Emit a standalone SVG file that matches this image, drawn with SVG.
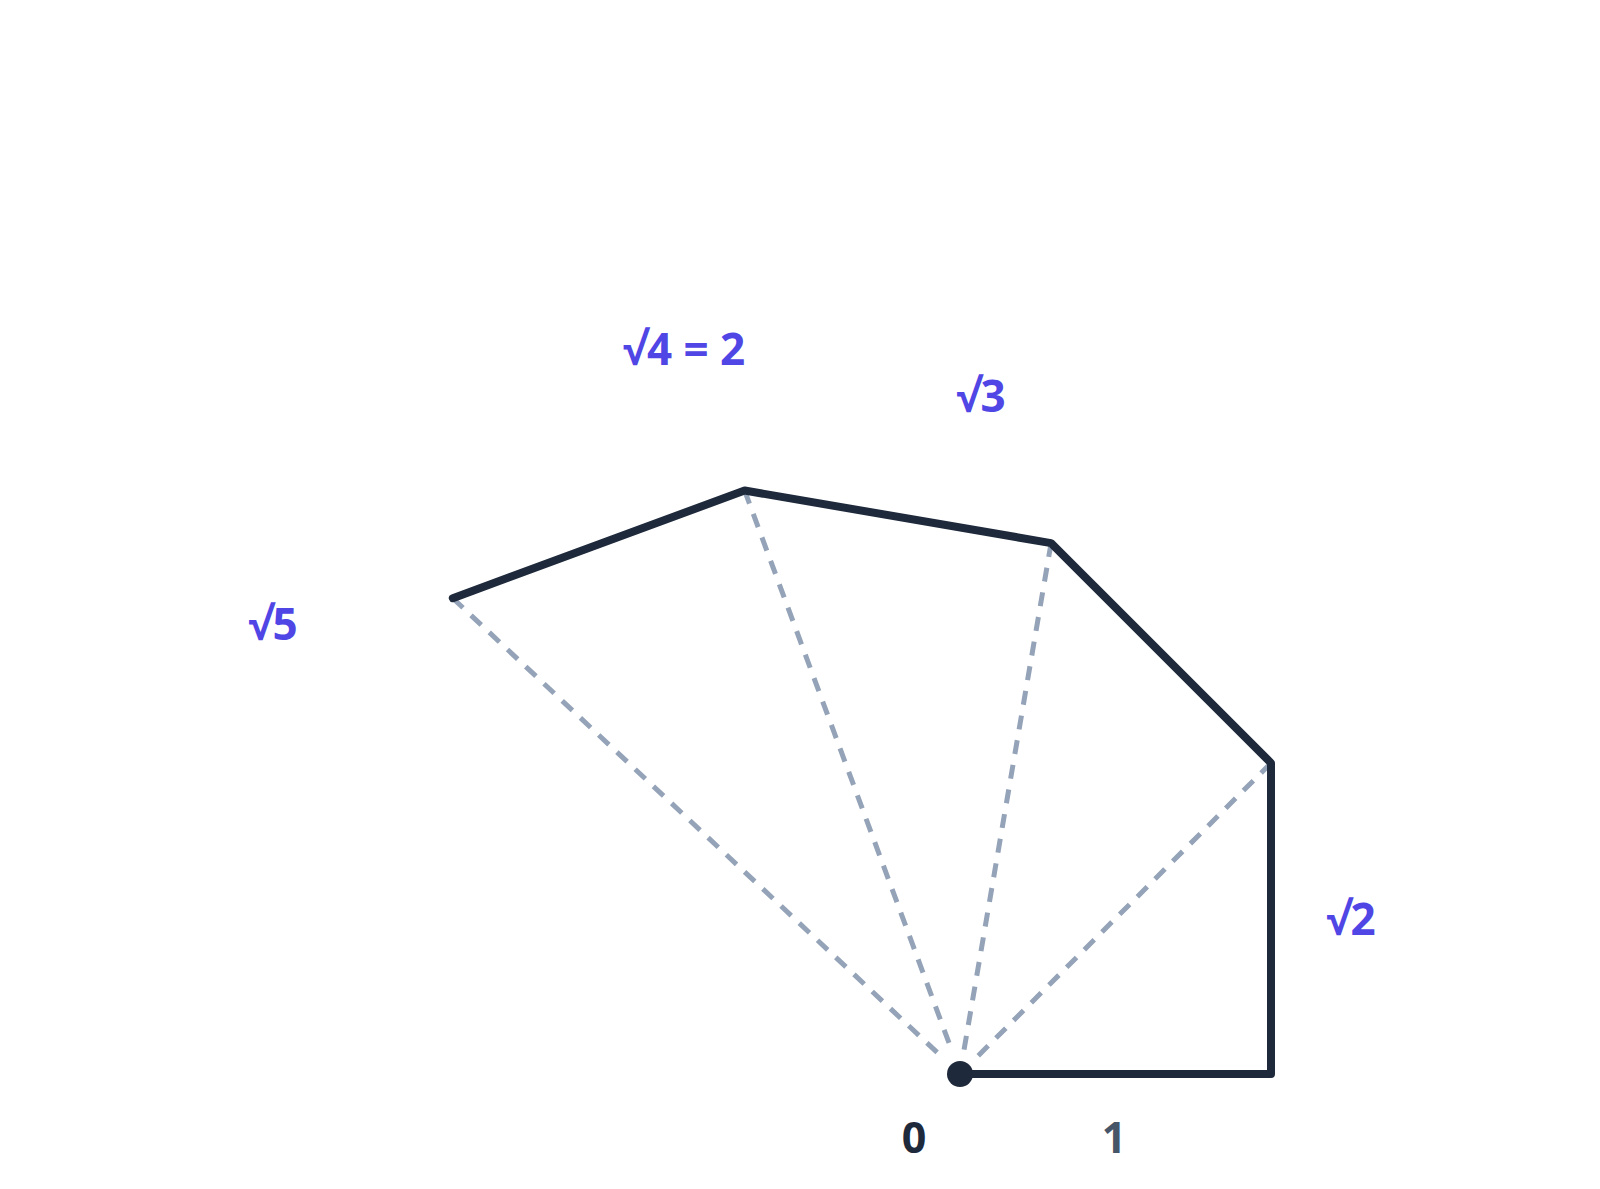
<svg xmlns="http://www.w3.org/2000/svg" width="1600" height="1189" viewBox="0 0 1600 1189">
<style>
.ray{stroke:#94a3b8;stroke-width:5;stroke-dasharray:14 11;fill:none}
.spiral{stroke:#1e293b;stroke-width:8;fill:none;stroke-linejoin:round;stroke-linecap:round}
.lbl{font-family:"Open Sans","Noto Sans","DejaVu Sans",sans-serif;font-weight:700;font-size:44px;text-anchor:middle;fill:#4f46e5}
.axis{font-family:"Open Sans","Noto Sans","DejaVu Sans",sans-serif;font-weight:700;font-size:43px;text-anchor:middle}
</style>
<rect width="1600" height="1189" fill="#ffffff"/>
<g id="connectors">
<line class="ray" x1="1271" y1="763" x2="977" y2="1057"/>
<line class="ray" x1="1051.1" y1="543.1" x2="964" y2="1050"/>
<line class="ray" x1="744.6" y1="490.5" x2="952" y2="1051"/>
<line class="ray" x1="452.8" y1="598.2" x2="942" y2="1057"/>
<polyline class="spiral" points="960,1074 1271,1074 1271,763 1051.1,543.1 744.6,490.5 452.8,598.2"/>
</g>
<g id="origin"><circle cx="960" cy="1074" r="13" fill="#1e293b"/></g>
<g id="label-0"><text class="axis" x="914" y="1153" fill="#1e293b">0</text></g>
<g id="label-1"><text class="axis" x="1114" y="1153" fill="#475569" font-weight="600">1</text></g>
<g id="label-sqrt2"><text class="lbl" x="1351" y="935">√2</text></g>
<g id="label-sqrt3"><text class="lbl" x="981" y="412">√3</text></g>
<g id="label-sqrt4"><text class="lbl" x="684" y="365">√4 = 2</text></g>
<g id="label-sqrt5"><text class="lbl" x="273" y="640">√5</text></g>
</svg>
